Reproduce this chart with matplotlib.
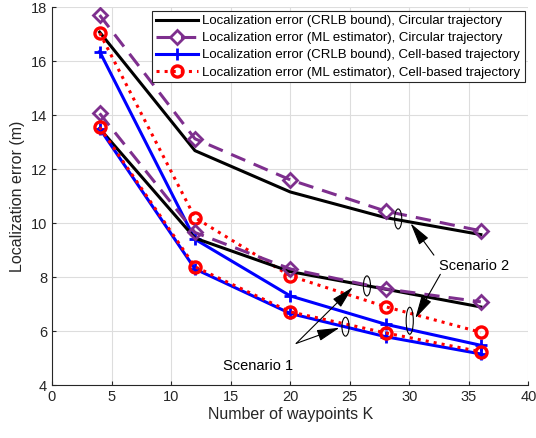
import matplotlib
matplotlib.use("Agg")
import matplotlib.pyplot as plt
from matplotlib.patches import Ellipse

plt.rcParams["font.family"] = ["Liberation Sans", "DejaVu Sans"]

waypoints = [4, 12, 20, 28, 36]

# Scenario 2 (upper group)
s2_circ_crlb = [17.07, 12.68, 11.15, 10.2, 9.57]
s2_circ_ml = [17.7, 13.12, 11.6, 10.44, 9.71]
s2_cell_crlb = [16.35, 9.4, 7.3, 6.25, 5.47]
s2_cell_ml = [17.04, 10.2, 8.04, 6.9, 5.95]

# Scenario 1 (lower group)
s1_circ_crlb = [13.5, 9.44, 8.2, 7.55, 6.89]
s1_circ_ml = [14.06, 9.65, 8.3, 7.56, 7.08]
s1_cell_crlb = [13.5, 8.3, 6.65, 5.79, 5.15]
s1_cell_ml = [13.55, 8.38, 6.71, 5.93, 5.23]

labels = [
    "Localization error (CRLB bound), Circular trajectory",
    "Localization error (ML estimator), Circular trajectory",
    "Localization error (CRLB bound), Cell-based trajectory",
    "Localization error (ML estimator), Cell-based trajectory",
]

PURPLE = "#7E2F8E"
styles = [
    dict(color="black", ls="-", lw=2.2),
    dict(color=PURPLE, ls=(0, (5, 3)), lw=2.2, marker="D", ms=7, mfc="none", mew=2),
    dict(color="blue", ls="-", lw=2.2, marker="+", ms=8, mew=2),
    dict(color="red", ls=":", lw=2.2, marker="o", ms=8, mfc="none", mew=2.4),
]

fig = plt.figure(figsize=(5.36, 4.38), dpi=100)
ax = fig.add_axes([0.097, 0.121, 0.889, 0.863])

for series, st, lab in zip([s2_circ_crlb, s2_circ_ml, s2_cell_crlb, s2_cell_ml], styles, labels):
    ax.plot(waypoints, series, label=lab, **st)
for series, st in zip([s1_circ_crlb, s1_circ_ml, s1_cell_crlb, s1_cell_ml], styles):
    ax.plot(waypoints, series, **st)

# ellipses grouping curves
for (cx, cy, h) in [(29.06, 10.15, 0.74), (26.44, 7.67, 0.74), (24.64, 6.16, 0.7), (30.03, 6.38, 1.0)]:
    ax.add_patch(Ellipse((cx, cy), 0.6, h, fill=False, ec="black", lw=0.8, zorder=5))

arrow = dict(arrowstyle="-|>,head_length=1.4,head_width=0.35", color="black", lw=0.8, shrinkA=0, shrinkB=0)
ax.annotate("", xy=(25.25, 7.62), xytext=(20.5, 5.54), arrowprops=arrow)
ax.annotate("", xy=(24.14, 6.12), xytext=(20.5, 5.54), arrowprops=arrow)
ax.text(17.3, 4.72, "Scenario 1", ha="center", va="center", fontsize=10.5)

ax.annotate("", xy=(30.1, 9.99), xytext=(32.06, 8.81), arrowprops=arrow)
ax.annotate("", xy=(30.5, 6.47), xytext=(32.6, 8.1), arrowprops=arrow)
ax.text(35.4, 8.42, "Scenario 2", ha="center", va="center", fontsize=10.5)

ax.set_xlim(0, 40)
ax.set_ylim(4, 18)
ax.set_xticks(range(0, 41, 5))
ax.set_yticks(range(4, 19, 2))
ax.grid(True, color="#dddddd", lw=0.8)
ax.set_axisbelow(True)
for side in ["top", "right"]:
    ax.spines[side].set_visible(False)
for side in ["left", "bottom"]:
    ax.spines[side].set_color("#262626")
ax.tick_params(direction="in", length=3, labelsize=10.5, colors="#262626")
ax.set_xlabel("Number of waypoints K", fontsize=11.5, color="#262626", labelpad=2)
ax.set_ylabel("Localization error (m)", fontsize=11.5, color="#262626", labelpad=4)

leg = ax.legend(loc="upper right", fontsize=9.5, handlelength=3.25, borderaxespad=0.3,
                fancybox=False, edgecolor="#262626", framealpha=1,
                labelspacing=0.37, borderpad=0.3, handletextpad=0.3)
leg.get_frame().set_linewidth(0.8)

fig.savefig("out.png", dpi=100)
